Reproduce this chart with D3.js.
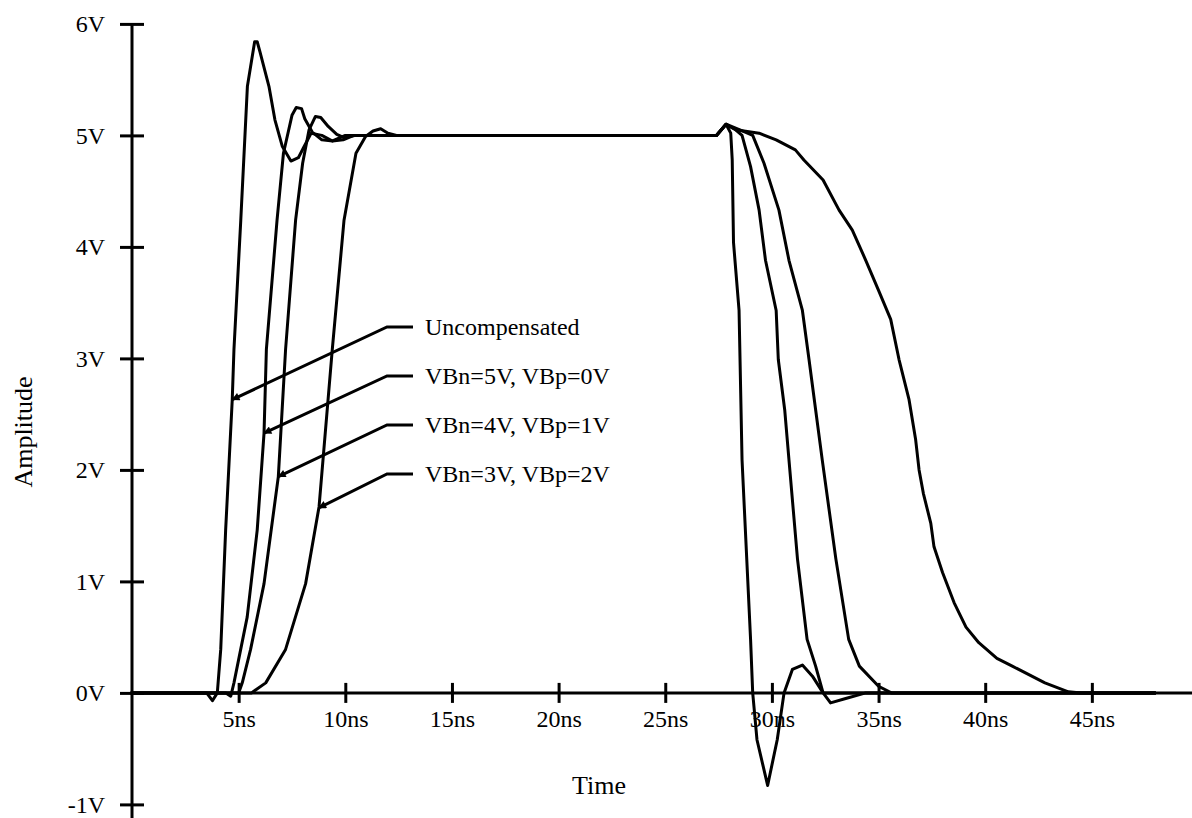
<!DOCTYPE html>
<html>
<head>
<meta charset="utf-8">
<script src="https://cdn.jsdelivr.net/npm/d3@7"></script>
<style>
  html, body { margin: 0; padding: 0; background: #fff; }
  svg { display: block; font-family: "Liberation Serif", "Times New Roman", serif; }
  .tick text { font-size: 24px; fill: #000; font-family: "Liberation Serif", serif; }
  .axis-title { font-size: 26px; fill: #000; }
  .legend-label { font-size: 24px; fill: #000; }
</style>
</head>
<body>
<div id="chart"></div>
<script>
const width = 1192;
const height = 818;

const seriesNames = ["Uncompensated", "VBn=5V, VBp=0V", "VBn=4V, VBp=1V", "VBn=3V, VBp=2V"];

// time (ns) and amplitude (V)
const uncompT = [0, 3.5, 3.77, 4.0, 4.16, 4.39, 4.7, 4.78, 5.1, 5.41, 5.75, 5.87, 6.0, 6.42, 6.7, 7.05, 7.45, 7.8, 8.07, 8.4,
  8.9, 9.4, 9.9, 10.4, 11.0, 27.4, 27.85, 28.07, 28.14, 28.2, 28.46, 28.6, 29.0, 29.1, 29.3, 29.8, 30.25, 30.57, 30.96, 31.43,
  31.9, 32.4, 32.75, 33.46, 34.4, 48];
const uncompV = [0, 0, -0.07, 0, 0.39, 1.46, 2.63, 3.08, 4.24, 5.44, 5.84, 5.84, 5.75, 5.44, 5.14, 4.9, 4.77, 4.8, 4.9, 5.02,
  5.0, 4.95, 4.96, 5.0, 5.0, 5.0, 5.1, 5.02, 4.78, 4.04, 3.43, 2.09, 0.48, 0, -0.42, -0.83, -0.42, 0, 0.21, 0.25,
  0.15, 0, -0.09, -0.05, 0, 0];

const vb5T = [0, 4.4, 4.63, 4.78, 5.4, 5.87, 6.19, 6.3, 6.8, 7.1, 7.5, 7.7, 7.95, 8.1, 8.45, 8.9, 9.4, 10.0, 27.4, 27.85,
  28.3, 28.6, 29.0, 29.4, 29.7, 30.2, 30.3, 30.6, 30.8, 31.2, 31.65, 32.05, 32.4, 48];
const vb5V = [0, 0, -0.03, 0.09, 0.68, 1.46, 2.33, 3.08, 4.24, 4.84, 5.18, 5.25, 5.24, 5.15, 5.03, 4.96, 4.95, 5.0, 5.0, 5.1,
  5.05, 5.0, 4.72, 4.33, 3.88, 3.43, 2.99, 2.54, 2.09, 1.2, 0.48, 0.24, 0, 0];

const vb4T = [0, 4.8, 5.0, 5.17, 5.56, 6.19, 6.86, 7.2, 7.67, 8.0, 8.3, 8.6, 8.85, 9.2, 9.6, 9.94, 10.5, 27.4, 27.85, 28.5,
  29.1, 29.63, 30.33, 30.8, 31.43, 31.74, 32.05, 32.36, 33.0, 33.6, 34.1, 35.0, 35.6, 48];
const vb4V = [0, 0, 0, 0.09, 0.39, 0.98, 1.94, 3.08, 4.24, 4.75, 5.05, 5.17, 5.16, 5.08, 5.01, 4.98, 5.0, 5.0, 5.1, 5.05,
  5.0, 4.75, 4.33, 3.88, 3.43, 2.99, 2.54, 2.09, 1.2, 0.48, 0.24, 0.06, 0, 0];

const vb3T = [0, 5.6, 6.27, 7.2, 8.14, 8.77, 9.39, 9.94, 10.5, 10.95, 11.3, 11.66, 12.0, 12.4, 27.4, 27.85, 28.3, 29.4, 30.2, 31.1,
  31.5, 32.4, 33.15, 33.77, 34.4, 35.0, 35.57, 35.96, 36.43, 36.74, 36.9, 37.1, 37.45, 37.6, 38.0, 38.54, 39.1, 39.7, 40.55, 41.27,
  42.8, 43.9, 44.5, 48];
const vb3V = [0, 0, 0.09, 0.39, 0.98, 1.67, 3.08, 4.24, 4.84, 4.99, 5.04, 5.06, 5.02, 5.0, 5.0, 5.1, 5.05, 5.02, 4.96, 4.87,
  4.78, 4.6, 4.33, 4.15, 3.88, 3.61, 3.35, 2.99, 2.63, 2.27, 2.0, 1.79, 1.52, 1.31, 1.08, 0.81, 0.59, 0.45, 0.31, 0.24,
  0.09, 0.01, 0, 0];

const xTicks = [5, 10, 15, 20, 25, 30, 35, 40, 45];
const yTicks = [-1, 0, 1, 2, 3, 4, 5, 6];
// amplitude (V) on the rising edge where each leader arrow touches its trace
const arrowAt = [2.63, 2.33, 1.94, 1.66];

const series = [
  d3.zip(uncompT, uncompV),
  d3.zip(vb5T, vb5V),
  d3.zip(vb4T, vb4V),
  d3.zip(vb3T, vb3V)
];

const svg = d3.select("#chart")
  .append("svg")
  .attr("width", width)
  .attr("height", height);

const x = d3.scaleLinear().domain([0, 50]).range([132, 1198.5]);
const y = d3.scaleLinear().domain([-1, 6]).range([804.4, 23.9]);

// arrow head for the leader lines
svg.append("defs").append("marker")
  .attr("id", "arrow")
  .attr("viewBox", "0 0 10 10")
  .attr("refX", 9)
  .attr("refY", 5)
  .attr("markerWidth", 12)
  .attr("markerHeight", 8)
  .attr("markerUnits", "userSpaceOnUse")
  .attr("orient", "auto")
  .append("path")
    .attr("d", "M0,0 L10,5 L0,10 z")
    .attr("fill", "#000");

/*----------------------------- */
// Axes

const yAxis = svg.append("g")
  .attr("transform", `translate(${x(0)},0)`)
  .call(d3.axisLeft(y).tickValues(yTicks).tickFormat(d => d + "V").tickSize(12).tickPadding(15));
yAxis.select(".domain").remove();
yAxis.selectAll(".tick line").attr("x1", 12).attr("x2", -12).attr("stroke-width", 3);

svg.append("line")
  .attr("x1", x(0)).attr("x2", x(0))
  .attr("y1", y(6)).attr("y2", height)
  .attr("stroke", "#000")
  .attr("stroke-width", 3);

const xAxis = svg.append("g")
  .attr("transform", `translate(0,${y(0)})`)
  .call(d3.axisBottom(x).tickValues(xTicks).tickFormat(d => d + "ns").tickSize(10).tickPadding(7));
xAxis.select(".domain").remove();
xAxis.selectAll(".tick line").attr("y1", -10).attr("y2", 10).attr("stroke-width", 3);

svg.append("line")
  .attr("x1", x(0) - 2).attr("x2", width)
  .attr("y1", y(0)).attr("y2", y(0))
  .attr("stroke", "#000")
  .attr("stroke-width", 3);

svg.append("text")
  .attr("class", "axis-title")
  .attr("x", 599)
  .attr("y", 794)
  .attr("text-anchor", "middle")
  .text("Time");

svg.append("text")
  .attr("class", "axis-title")
  .attr("transform", "translate(32,432) rotate(-90)")
  .attr("text-anchor", "middle")
  .text("Amplitude");

/*----------------------------- */
// Traces

const line = d3.line()
  .x(d => x(d[0]))
  .y(d => y(d[1]));

svg.selectAll("path.trace")
  .data(series)
  .join("path")
    .attr("class", "trace")
    .attr("d", line)
    .attr("fill", "none")
    .attr("stroke", "#000")
    .attr("stroke-width", 3)
    .attr("stroke-linejoin", "round");

/*----------------------------- */
// Leader labels

// time at which a trace first climbs through level v
const timeAt = (pts, v) => {
  for (let i = 1; i < pts.length; i++) {
    const a = pts[i - 1], b = pts[i];
    if (a[1] <= v && b[1] >= v && b[1] !== a[1]) {
      return a[0] + (b[0] - a[0]) * (v - a[1]) / (b[1] - a[1]);
    }
  }
  return pts[0][0];
};

const labelX = 425;
const elbowX0 = 387;
const elbowX1 = 413;
const labelY0 = 327;
const labelStep = 49;

const leaders = svg.selectAll("g.leader")
  .data(seriesNames)
  .join("g")
    .attr("class", "leader");

leaders.append("path")
  .attr("d", (d, i) => {
    const ly = labelY0 + i * labelStep;
    const tx = x(timeAt(series[i], arrowAt[i]));
    const ty = y(arrowAt[i]);
    return `M${elbowX1},${ly} L${elbowX0},${ly} L${tx},${ty}`;
  })
  .attr("fill", "none")
  .attr("stroke", "#000")
  .attr("stroke-width", 3)
  .attr("marker-end", "url(#arrow)");

leaders.append("text")
  .attr("class", "legend-label")
  .attr("x", labelX)
  .attr("y", (d, i) => labelY0 + i * labelStep)
  .attr("dy", "0.35em")
  .text(d => d);
</script>
</body>
</html>
